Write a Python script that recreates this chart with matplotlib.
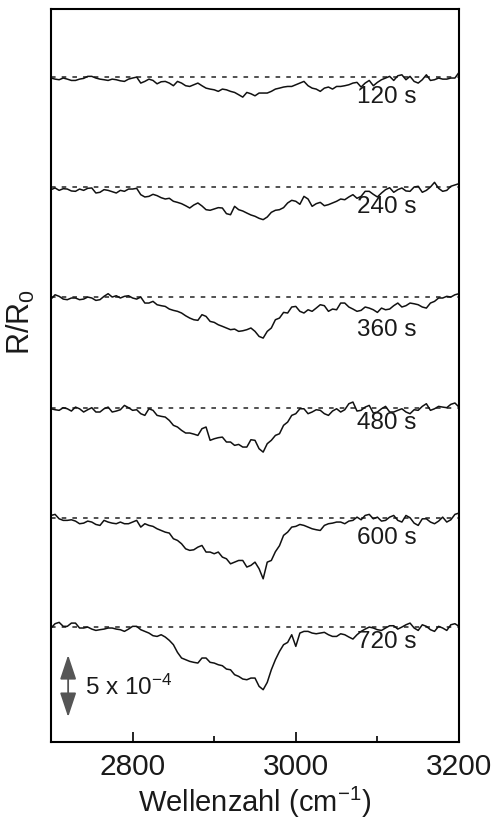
import matplotlib
matplotlib.use('Agg')
import matplotlib.pyplot as plt
from matplotlib.ticker import MultipleLocator

plt.rcParams['font.family'] = ['Liberation Sans', 'DejaVu Sans']
plt.rcParams['mathtext.fontset'] = 'custom'
plt.rcParams['mathtext.rm'] = 'Liberation Sans'
plt.rcParams['mathtext.it'] = 'Liberation Sans'
plt.rcParams['mathtext.default'] = 'regular'

# wavenumber grid (cm-1)
wn = [2700, 2705, 2710, 2715, 2720, 2725, 2730, 2735, 2740, 2745,
      2750, 2755, 2760, 2765, 2770, 2775, 2780, 2785, 2790, 2795,
      2800, 2805, 2810, 2815, 2820, 2825, 2830, 2835, 2840, 2845,
      2850, 2855, 2860, 2865, 2870, 2875, 2880, 2885, 2890, 2895,
      2900, 2905, 2910, 2915, 2920, 2925, 2930, 2935, 2940, 2945,
      2950, 2955, 2960, 2965, 2970, 2975, 2980, 2985, 2990, 2995,
      3000, 3005, 3010, 3015, 3020, 3025, 3030, 3035, 3040, 3045,
      3050, 3055, 3060, 3065, 3070, 3075, 3080, 3085, 3090, 3095,
      3100, 3105, 3110, 3115, 3120, 3125, 3130, 3135, 3140, 3145,
      3150, 3155, 3160, 3165, 3170, 3175, 3180, 3185, 3190, 3195,
      3200]

# delta R/R0 in units of 1e-4
s120 = [-0.08, -0.17, -0.22, -0.08, -0.17, -0.28, -0.28, -0.17, -0.11, 0.06,
        0.06, -0.08, -0.17, -0.22, -0.28, -0.17, -0.22, -0.31, -0.36, -0.17,
        -0.08, 0.00, -0.50, -0.36, -0.17, -0.28, -0.56, -0.39, -0.36, -0.50,
        -0.72, -0.36, -0.50, -0.72, -0.78, -0.64, -0.50, -0.72, -0.92, -1.00,
        -1.06, -1.19, -1.00, -1.06, -1.19, -1.28, -1.47, -1.67, -1.28, -1.39,
        -1.56, -1.33, -1.33, -1.33, -1.19, -1.00, -0.92, -0.83, -0.78, -0.78,
        -0.64, -0.50, -0.36, -0.72, -0.92, -1.00, -1.19, -0.92, -0.83, -1.00,
        -0.78, -0.78, -0.72, -0.64, -0.50, -0.44, -0.83, -0.50, -0.28, -0.72,
        -0.44, -0.22, -0.08, 0.06, -0.28, 0.11, 0.19, -0.22, 0.06, -0.36,
        -0.50, -0.22, 0.19, -0.28, -0.22, -0.08, -0.17, -0.17, -0.08, -0.08,
        0.39]
s240 = [-0.22, -0.08, -0.28, -0.14, -0.17, -0.33, -0.36, -0.17, -0.28, -0.11,
        -0.08, -0.50, -0.44, -0.22, -0.28, -0.39, -0.50, -0.28, -0.36, -0.17,
        -0.17, -0.11, -0.64, -0.83, -0.78, -0.61, -0.72, -0.89, -1.00, -0.94,
        -1.19, -1.28, -1.39, -1.56, -1.75, -1.50, -1.33, -1.58, -1.89, -1.94,
        -1.83, -1.72, -1.75, -2.22, -2.31, -1.61, -1.89, -2.00, -2.17, -2.33,
        -2.44, -2.61, -2.72, -2.50, -2.11, -1.94, -1.89, -1.72, -1.33, -1.11,
        -1.19, -1.44, -0.78, -1.00, -1.61, -1.39, -1.28, -1.56, -1.47, -1.33,
        -1.19, -1.00, -1.06, -0.83, -0.64, -0.94, -0.78, -0.36, -0.36, -0.61,
        -0.83, -0.50, -0.22, -0.06, -0.44, -0.22, -0.08, -0.33, -0.36, 0.00,
        0.06, -0.44, -0.28, 0.00, 0.39, -0.11, -0.36, -0.28, 0.06, 0.17,
        0.28]
s360 = [-0.17, 0.19, 0.06, -0.17, -0.22, -0.08, -0.08, -0.22, -0.17, 0.00,
        -0.08, -0.28, -0.22, 0.06, 0.28, 0.00, 0.11, -0.08, 0.06, 0.11,
        -0.08, -0.17, 0.00, -0.50, -0.50, -0.36, -0.64, -0.72, -0.78, -1.00,
        -1.11, -1.19, -1.33, -1.56, -1.75, -1.89, -1.94, -1.47, -1.61, -2.03,
        -2.11, -2.31, -2.44, -2.58, -2.72, -2.67, -2.86, -2.81, -2.72, -2.58,
        -2.86, -3.28, -3.42, -2.86, -2.58, -1.89, -1.75, -1.28, -1.33, -0.83,
        -0.78, -1.19, -1.33, -1.06, -1.19, -0.92, -0.64, -0.72, -1.19, -1.00,
        -1.06, -0.50, -0.50, -0.83, -1.00, -1.19, -1.11, -0.83, -0.92, -1.06,
        -1.28, -0.92, -1.06, -1.00, -0.72, -0.50, -0.83, -0.72, -0.50, -0.56,
        -0.64, -0.83, -0.92, -0.50, -0.36, -0.08, -0.08, 0.06, 0.00, 0.19,
        0.28]
s480 = [-0.06, -0.14, -0.19, 0.03, -0.06, -0.25, 0.08, -0.06, -0.33, -0.14,
        0.03, -0.33, -0.33, -0.06, 0.08, -0.33, -0.25, -0.14, 0.22, 0.03,
        -0.19, -0.14, -0.47, -0.61, -0.06, -0.19, -0.61, -0.69, -0.75, -1.03,
        -1.44, -1.58, -1.86, -2.08, -2.08, -2.17, -2.28, -1.72, -1.58, -2.69,
        -2.56, -2.47, -2.42, -2.83, -2.83, -3.11, -3.03, -3.25, -3.25, -2.64,
        -2.69, -3.39, -3.67, -2.97, -2.69, -2.28, -2.14, -1.44, -1.17, -0.61,
        -0.47, -0.06, -0.06, -0.47, -0.33, -0.14, -0.19, -0.47, -0.61, -0.25,
        -0.06, -0.33, -0.14, 0.36, 0.50, -0.25, -0.19, 0.08, 0.22, -0.42,
        -0.33, -0.06, 0.14, -0.33, -0.33, -0.19, -0.06, -0.33, -0.47, -0.14,
        -0.19, 0.14, 0.36, -0.19, -0.06, 0.14, 0.08, 0.03, 0.31, 0.42,
        0.08]
s600 = [0.22, 0.31, -0.06, -0.19, -0.19, -0.14, -0.25, -0.47, -0.42, -0.25,
        -0.33, -0.53, -0.61, -0.19, -0.33, -0.42, -0.47, -0.33, -0.47, -0.47,
        -0.33, -0.19, -0.75, -0.47, -0.61, -0.69, -0.89, -1.03, -1.17, -1.25,
        -1.72, -1.86, -2.14, -2.56, -2.69, -2.64, -2.42, -2.28, -2.83, -2.83,
        -2.97, -2.83, -3.25, -3.39, -3.81, -3.67, -3.53, -3.53, -4.08, -3.94,
        -3.67, -4.22, -5.06, -3.67, -3.53, -2.80, -2.30, -1.44, -1.17, -0.75,
        -0.69, -0.53, -0.61, -0.75, -0.89, -0.97, -1.03, -0.61, -0.47, -0.42,
        -0.33, -0.33, -0.47, -0.25, -0.19, 0.08, -0.14, 0.22, 0.31, -0.06,
        0.08, -0.25, -0.19, 0.08, 0.22, -0.19, -0.33, 0.22, 0.03, -0.42,
        -0.61, -0.06, -0.06, -0.33, -0.47, -0.25, 0.08, -0.33, -0.14, 0.31,
        0.42]
s720 = [-0.08, 0.28, 0.39, 0.06, 0.06, 0.33, 0.33, -0.08, -0.08, 0.00,
        -0.17, -0.28, -0.22, -0.17, -0.08, -0.08, -0.17, -0.22, -0.36, -0.17,
        0.06, 0.06, -0.22, -0.36, -0.50, -0.72, -0.78, -0.64, -0.83, -1.11,
        -1.47, -2.11, -2.58, -2.72, -2.86, -2.94, -3.00, -2.58, -2.58, -2.94,
        -3.00, -3.14, -3.22, -3.50, -3.56, -3.97, -4.11, -4.33, -4.39, -4.25,
        -4.25, -4.94, -5.22, -4.61, -3.56, -2.72, -2.03, -1.47, -1.28, -0.64,
        -1.61, -0.50, -0.36, -0.36, -0.50, -0.56, -0.50, -0.44, -0.64, -0.78,
        -0.78, -0.56, -0.64, -0.83, -1.00, -0.64, -0.36, -0.17, 0.00, -0.08,
        -0.22, -0.28, -0.08, 0.11, 0.11, -0.17, 0.00, 0.19, 0.33, -0.08,
        -0.28, 0.19, 0.06, -0.22, -0.36, 0.06, -0.08, -0.28, 0.19, 0.28,
        0.06]

spectra = [s120, s240, s360, s480, s600, s720]
times = ['120 s', '240 s', '360 s', '480 s', '600 s', '720 s']
offsets = [45.83, 36.67, 27.5, 18.25, 9.08, 0.0]
label_dy = [-1.67, -1.67, -2.75, -1.25, -1.67, -1.25]

fig = plt.figure(figsize=(4.98, 8.22), dpi=100)
ax = fig.add_axes([0.1024, 0.0973, 0.8193, 0.8917])

for s, t, off, dy in zip(spectra, times, offsets, label_dy):
    ax.axhline(off, color='#222222', lw=1.1, ls=(0, (3, 4)))
    ax.plot(wn, [v + off for v in s], color='#111111', lw=1.1)
    ax.text(3075, off + dy, t, fontsize=17.5, color='#1a1a1a',
            ha='left', va='center')

# scale bar
ax.annotate('', xy=(2721, -2.33), xytext=(2721, -7.5),
            arrowprops=dict(arrowstyle='<|-|>,head_length=0.75,head_width=0.25',
                            mutation_scale=20, color='#555555', lw=1.3,
                            shrinkA=0, shrinkB=0))
ax.text(2742, -5.0, '5 x 10$^{-4}$', fontsize=17.5, color='#1a1a1a',
        ha='left', va='center')

ax.set_xlim(2700, 3200)
ax.set_ylim(-9.58, 51.5)
ax.xaxis.set_major_locator(MultipleLocator(200))
ax.xaxis.set_minor_locator(MultipleLocator(100))
ax.tick_params(axis='x', which='major', direction='in', length=7, width=1.2,
               labelsize=21.5, pad=8, top=False, labelcolor='#1a1a1a')
ax.tick_params(axis='x', which='minor', direction='in', length=4, width=1.2,
               top=False)
ax.set_yticks([])
for sp in ax.spines.values():
    sp.set_linewidth(1.5)

ax.set_xlabel('Wellenzahl (cm$^{-1}$)', fontsize=21, labelpad=3, color='#1a1a1a')
ax.set_ylabel('R/R$_0$', fontsize=22, color='#1a1a1a')
ax.yaxis.set_label_coords(-0.034, 0.573)

fig.savefig('out.png', dpi=100)
